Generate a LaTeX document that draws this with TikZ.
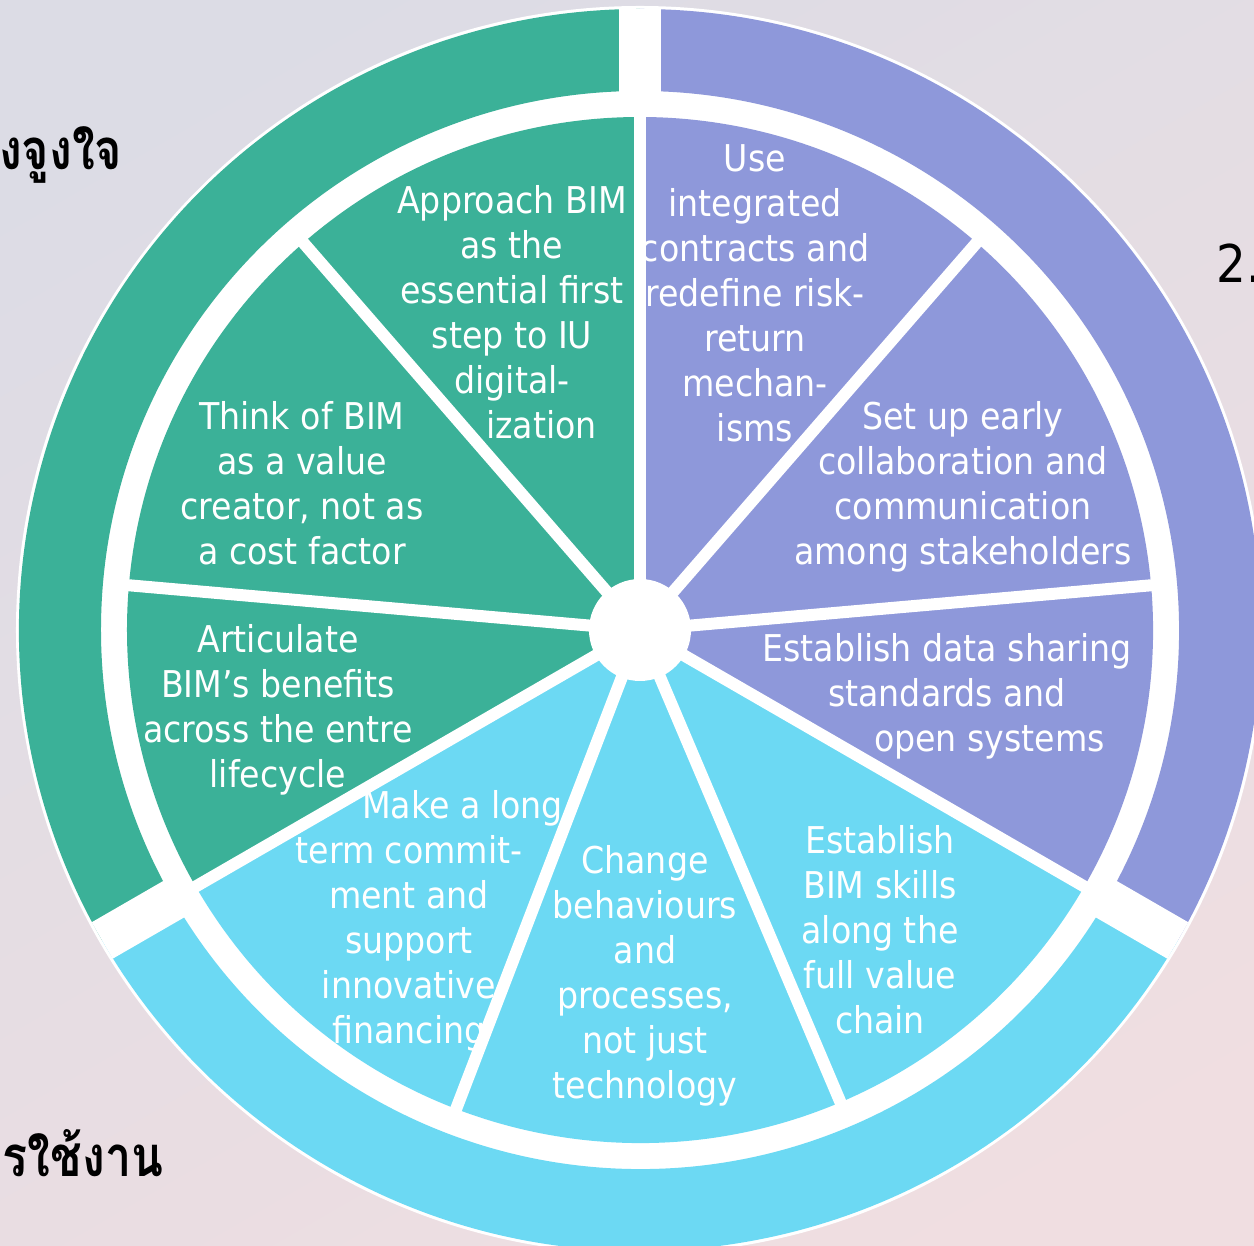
\documentclass[tikz,border=0pt]{standalone}
\usepackage{fontspec}
\setmainfont{DejaVu Sans Condensed}
\newfontfamily\thaifont[Script=Thai, FakeStretch=0.83]{Loma}
\usetikzlibrary{positioning}

\definecolor{bgtop}{RGB}{220,220,229}
\definecolor{bgbot}{RGB}{240,222,225}
\definecolor{motivgreen}{RGB}{59,177,152}
\definecolor{enablepurple}{RGB}{142,152,218}
\definecolor{usecyan}{RGB}{108,217,243}

\begin{document}
\begin{tikzpicture}[x=0.01cm, y=0.01cm,
    slice/.style={text=white, align=center, inner sep=0pt, font=\fontsize{10.5}{12.8}\selectfont},
    sidetext/.style={inner sep=0pt, font=\thaifont\bfseries\fontsize{16}{18}\selectfont},
    sep/.style={white, line width=1.2mm},
    ringgap/.style={white, line width=4.2mm}]
    % Background
    \useasboundingbox (-640,-616) rectangle (614,630);
    \clip (-640,-616) rectangle (614,630);
    \shade[top color=bgtop, bottom color=bgbot, shading angle=30] (-700,-700) rectangle (700,700);

    % Disc
    \fill[white] (0,0) circle[radius=624];

    % Outer ring
    \fill[motivgreen] (90:539) arc[start angle=90, end angle=210, radius=539] -- (210:621) arc[start angle=210, end angle=90, radius=621] -- cycle;
    \fill[enablepurple] (-30:539) arc[start angle=-30, end angle=90, radius=539] -- (90:621) arc[start angle=90, end angle=-30, radius=621] -- cycle;
    \fill[usecyan] (210:539) arc[start angle=210, end angle=330, radius=539] -- (330:621) arc[start angle=330, end angle=210, radius=621] -- cycle;
    \draw[ringgap] (90:528) -- (90:621);
    \draw[ringgap] (210:528) -- (210:621);
    \draw[ringgap] (330:528) -- (330:621);

    % Inner pie
    \fill[motivgreen] (0,0) -- (90:513) arc[start angle=90, end angle=210, radius=513] -- cycle;
    \fill[enablepurple] (0,0) -- (-30:513) arc[start angle=-30, end angle=90, radius=513] -- cycle;
    \fill[usecyan] (0,0) -- (210:513) arc[start angle=210, end angle=330, radius=513] -- cycle;
    \draw[sep] (0,0) -- (90:518);
    \draw[sep] (0,0) -- (49:518);
    \draw[sep] (0,0) -- (5:518);
    \draw[sep] (0,0) -- (-30:518);
    \draw[sep] (0,0) -- (-67:518);
    \draw[sep] (0,0) -- (-111:518);
    \draw[sep] (0,0) -- (210:518);
    \draw[sep] (0,0) -- (175:518);
    \draw[sep] (0,0) -- (131:518);
    \fill[white] (0,0) circle[radius=51];

    % Slice texts
    \node[slice] (approach) at (-128,318) {Approach BIM\\as the\\essential first\\step to IU\\digital-\\\hspace*{1.6em}ization};
    \node[slice] (contracts) at (115,337) {Use\\integrated\\contracts and\\redefine risk-\\return\\mechan-\\isms};
    \node[slice] (collab) at (323,143) {Set up early\\collaboration and\\communication\\among stakeholders};
    \node[slice] (datashare) at (307,-66) {Establish data sharing\\standards and\\\hspace*{2.3em}open systems};
    \node[slice] (skills) at (240,-300) {Establish\\BIM skills\\along the\\full value\\chain};
    \node[slice] (behaviour) at (5,-346) {Change\\behaviours\\and\\processes,\\not just\\technology};
    \node[slice] (finance) at (-231,-291) {\hspace*{2.9em}Make a long\\term commit-\\ment and\\support\\innovative\\financing};
    \node[slice] (valuecreator) at (-338,147) {Think of BIM\\as a value\\creator, not as\\a cost factor};
    \node[slice] (benefits) at (-362,-80) {Articulate\\BIM’s benefits\\across the entre\\lifecycle};

    % Side headings (cut by the page edge)
    \node[sidetext, anchor=base east] (motiv) at (-517,460) {แรงจูงใจ};
    \node[sidetext, anchor=base west, font=\fontsize{14.8}{17}\selectfont] (two) at (576,347) {2.};
    \node[sidetext, anchor=base east] (usage) at (-476,-547) {การใช้งาน};
\end{tikzpicture}
\end{document}
